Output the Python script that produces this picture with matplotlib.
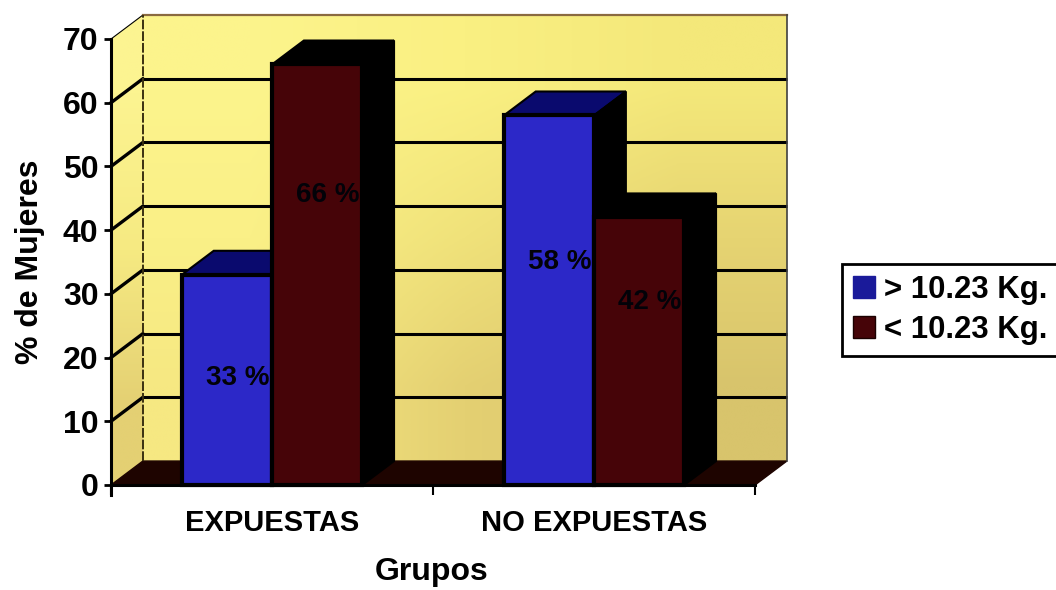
import numpy as np
import matplotlib
matplotlib.use("Agg")
import matplotlib.pyplot as plt
from matplotlib.patches import Patch, Polygon

# datos del grafico
grupos = ["EXPUESTAS", "NO EXPUESTAS"]
series = ["> 10.23 Kg.", "< 10.23 Kg."]
mayor = [33, 58]
menor = [66, 42]
yticks = [0, 10, 20, 30, 40, 50, 60, 70]

# alturas de las etiquetas de valor (mismo orden que las barras)
ALTURA_ETIQ = [16.8, 35.0, 45.5, 28.7]

# profundidad de la perspectiva en unidades de datos
DX = 0.099
DY = 3.76
ANCHO = 0.28
AZUL = "#2C28C8"
AZUL_TAPA = "#0A0A6E"
ROJO = "#460408"
SUELO = "#1E0400"

plt.rcParams["font.family"] = ["Liberation Sans", "DejaVu Sans"]
plt.rcParams["font.weight"] = "bold"

fig = plt.figure(figsize=(10.56, 5.9), dpi=100)
ax = fig.add_axes([111 / 1056, 105 / 590, 644 / 1056, 446 / 590])

# pared del fondo con degradado amarillo
pared = np.array([
    [[252, 244, 140], [250, 240, 130], [244, 232, 122]],
    [[250, 240, 135], [240, 226, 122], [230, 212, 114]],
    [[246, 232, 130], [228, 208, 114], [216, 196, 108]],
]) / 255
ax.imshow(pared, extent=[DX, 2 + DX, DY, 70 + DY], origin="upper", aspect="auto",
          interpolation="bilinear", zorder=0, clip_on=False)

# pared lateral
lateral = np.array([[[252, 244, 145]], [[246, 234, 130]], [[228, 208, 115]]]) / 255
img = ax.imshow(lateral, extent=[0, DX, 0, 70 + DY], origin="upper", aspect="auto",
                interpolation="bilinear", zorder=0)
poly_lat = Polygon([(0, 0), (DX, DY), (DX, 70 + DY), (0, 70)], closed=True,
                   transform=ax.transData, facecolor="none", edgecolor="none", clip_on=False)
ax.add_patch(poly_lat)
img.set_clip_box(fig.bbox)
img.set_clip_path(poly_lat)

# suelo
ax.add_patch(Polygon([(0, 0), (DX, DY), (2 + DX, DY), (2, 0)], closed=True,
                     facecolor=SUELO, edgecolor=SUELO, zorder=1, clip_on=False))

# rejilla en la pared y en el lateral
for v in yticks[1:]:
    ancho_l = 2.4 if v < 70 else 0.8
    if v < 70:
        ax.plot([DX, 2 + DX], [v + DY, v + DY], color="black", lw=2.2, zorder=2,
                clip_on=False, solid_capstyle="butt")
    ax.plot([0, DX], [v, v + DY], color="black", lw=ancho_l, zorder=2, clip_on=False)

# bordes de la pared
ax.plot([DX, 2 + DX], [70 + DY, 70 + DY], color="#8A6A40", lw=1.6, zorder=2, clip_on=False)
ax.plot([DX, DX], [DY, 70 + DY], color="#3A3010", lw=1.4, ls=(0, (5, 1)), zorder=2, clip_on=False)
ax.plot([2 + DX, 2 + DX], [DY, 70 + DY], color="#404040", lw=1.2, zorder=2, clip_on=False)


def barra(x0, valor, color, tapa, z):
    x1 = x0 + ANCHO
    # cara superior y cara lateral en perspectiva
    ax.add_patch(Polygon([(x0, valor), (x0 + DX, valor + DY), (x1 + DX, valor + DY), (x1, valor)],
                         closed=True, facecolor=tapa, edgecolor="black", lw=1.5, zorder=z, clip_on=False))
    ax.add_patch(Polygon([(x1, 0), (x1 + DX, DY), (x1 + DX, valor + DY), (x1, valor)],
                         closed=True, facecolor="black", edgecolor="black", lw=1.5, zorder=z, clip_on=False))
    ax.bar(x0, valor, width=ANCHO, align="edge", color=color, edgecolor="black",
           linewidth=3, zorder=z, clip_on=False)


z = 3
for i in range(len(grupos)):
    inicio = i + 0.22
    barra(inicio, mayor[i], AZUL, AZUL_TAPA, z)
    barra(inicio + ANCHO, menor[i], ROJO, "black", z + 1)
    z += 2

# etiquetas de valor sobre las caras frontales
pos_etiq = [0.22 + ANCHO * 0.62, 1.22 + ANCHO * 0.62, 0.5 + ANCHO * 0.62, 1.5 + ANCHO * 0.62]
for x, h, v in zip(pos_etiq, ALTURA_ETIQ, [mayor[0], mayor[1], menor[0], menor[1]]):
    ax.text(x, h, f"{v} %", ha="center", va="center", fontsize=20, color="#020208", zorder=10)

ax.set_xlim(0, 2)
ax.set_ylim(0, 70)

# ejes
for lado in ["top", "right"]:
    ax.spines[lado].set_visible(False)
ax.spines["left"].set_linewidth(2.2)
ax.spines["left"].set_bounds(-1.6, 70)
ax.spines["bottom"].set_linewidth(2.2)
ax.spines["left"].set_zorder(8)
ax.spines["bottom"].set_zorder(8)

ax.set_yticks(yticks)
ax.tick_params(axis="y", length=5, width=2, labelsize=23, pad=4)
ax.set_xticks([0, 1, 2])
ax.set_xticklabels([])
ax.tick_params(axis="x", which="major", length=7, width=1.5)
ax.set_xticks([0.5, 1.5], minor=True)
ax.set_xticklabels(grupos, minor=True)
ax.tick_params(axis="x", which="minor", length=0, labelsize=21, pad=17)

fig.text(30 / 1056, 1 - 262 / 590, "% de Mujeres", rotation=90, ha="center", va="center", fontsize=23)
fig.text(432 / 1056, 1 - 572 / 590, "Grupos", ha="center", va="center", fontsize=23)

# leyenda
handles = [Patch(facecolor="#1A1A9A", edgecolor="#1A1A9A"),
           Patch(facecolor="#460408", edgecolor="#1A0000")]
leg = fig.legend(handles, series, loc="upper left", bbox_to_anchor=(842 / 1056, 1 - 264 / 590),
                 fontsize=22.4, fancybox=False, framealpha=1, edgecolor="black",
                 handlelength=0.7, handleheight=0.7, handletextpad=0.3,
                 borderpad=0.35, labelspacing=0.33, borderaxespad=0)
leg.get_frame().set_linewidth(2)

fig.savefig("out.png", dpi=100)
